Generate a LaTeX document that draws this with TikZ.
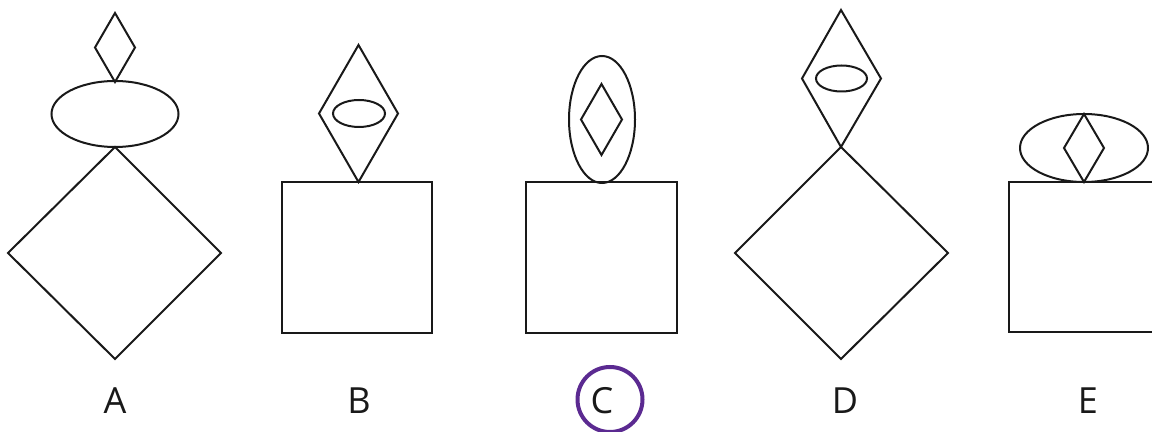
\documentclass[tikz,border=0pt]{standalone}
\usepackage{fontspec}
\setmainfont{Open Sans}
\definecolor{answer}{HTML}{5B2A91}
\tikzset{
  shp/.style={draw=black!90, line width=1pt, line join=miter},
  lbl/.style={font=\fontsize{18}{20}\selectfont, text=black!90, inner sep=0pt},
}
\begin{document}
\begin{tikzpicture}[x=0.5pt, y=-0.5pt]
\useasboundingbox (0,0) rectangle (1152,432);
\clip (0,0) rectangle (1152,432);
% A
\draw[shp] (115,13) -- (135,47.5) -- (115,82) -- (95,47.5) -- cycle;
\draw[shp] (115,114) ellipse [x radius=63.5, y radius=33];
\draw[shp] (115,147) -- (221,253) -- (115,359) -- (8,253) -- cycle;
\node[lbl] (la) at (115,401) {A};
% B
\draw[shp] (358.5,45) -- (398,113.5) -- (358.5,182) -- (319,113.5) -- cycle;
\draw[shp] (359,113.5) ellipse [x radius=26, y radius=13.5];
\draw[shp] (281.5,182) rectangle (432,333);
\node[lbl] (lb) at (359,401) {B};
% C
\draw[shp] (602,119.5) ellipse [x radius=33, y radius=63.5];
\draw[shp] (601.5,84) -- (622,119.5) -- (601.5,155) -- (581,119.5) -- cycle;
\draw[shp] (526,182) rectangle (676.5,333);
\node[lbl] (lc) at (602,401) {C};
\draw[answer, line width=2pt] (610,399.5) circle [radius=32.5];
% D
\draw[shp] (841,10) -- (881,78.5) -- (841,147) -- (802,78.5) -- cycle;
\draw[shp] (841.5,78.5) ellipse [x radius=25.5, y radius=13];
\draw[shp] (841,147) -- (948,253) -- (841,359) -- (735,253) -- cycle;
\node[lbl] (ld) at (845,401) {D};
% E
\draw[shp] (1084,148) ellipse [x radius=64, y radius=34];
\draw[shp] (1084,114) -- (1104,148) -- (1084,182) -- (1064,148) -- cycle;
\draw[shp] (1008.5,182) rectangle (1159,332.5);
\node[lbl] (le) at (1088,401) {E};
\end{tikzpicture}
\end{document}
